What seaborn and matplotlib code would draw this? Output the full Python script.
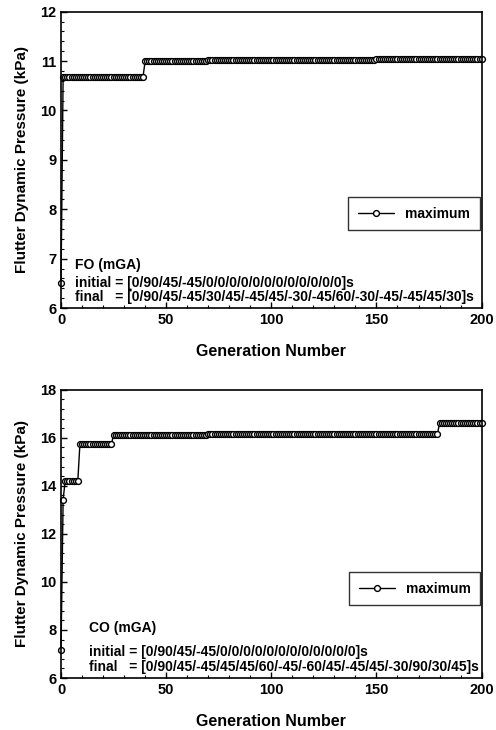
import numpy as np
import pandas as pd
import matplotlib
matplotlib.use("Agg")
import matplotlib.pyplot as plt
from matplotlib.ticker import MultipleLocator
import seaborn as sns

# step data: generation where each plateau starts, and its value
fo_start = [0, 1, 40, 70, 150]
fo_value = [6.5, 10.68, 11.0, 11.03, 11.05]
co_start = [0, 1, 2, 9, 25, 70, 180]
co_value = [7.15, 13.42, 14.22, 15.75, 16.12, 16.16, 16.6]
last_gen = 200

fo_initial = "[0/90/45/-45/0/0/0/0/0/0/0/0/0/0/0/0]s"
fo_final = "[0/90/45/-45/30/45/-45/45/-30/-45/60/-30/-45/-45/45/30]s"
co_initial = "[0/90/45/-45/0/0/0/0/0/0/0/0/0/0/0/0]s"
co_final = "[0/90/45/-45/45/45/60/-45/-60/45/-45/45/-30/90/30/45]s"


def expand(starts, values):
    lengths = np.diff(starts + [last_gen + 1])
    gen = np.arange(last_gen + 1)
    return pd.DataFrame({"gen": gen, "q": np.repeat(values, lengths)})


sns.set_theme(style="ticks")
plt.rcParams["font.family"] = ["Liberation Sans", "DejaVu Sans"]
plt.rcParams["font.weight"] = "bold"
plt.rcParams["text.color"] = "black"
plt.rcParams["axes.labelcolor"] = "black"

fig = plt.figure(figsize=(4.96, 7.3), dpi=100)
ax1 = fig.add_axes([0.123, 0.578, 0.848, 0.406])
ax2 = fig.add_axes([0.123, 0.0712, 0.848, 0.395])

panels = [
    (ax1, expand(fo_start, fo_value), (6, 12), 1, 0.2, "FO (mGA)", fo_initial, fo_final,
     (0.033, 0.145, 0.084, 0.037), (0.995, 0.375)),
    (ax2, expand(co_start, co_value), (6, 18), 2, 0.4, "CO (mGA)", co_initial, co_final,
     (0.066, 0.174, 0.09, 0.038), (0.997, 0.368)),
]

for ax, df, ylim, major, minor, tag, init, fin, tpos, lpos in panels:
    sns.lineplot(data=df, x="gen", y="q", ax=ax, color="black", lw=1.0,
                 marker="o", markersize=4.2, markerfacecolor="white",
                 markeredgecolor="black", markeredgewidth=1.0,
                 label="maximum", clip_on=False)
    ax.set_xlim(0, 200)
    ax.set_ylim(*ylim)
    ax.xaxis.set_major_locator(MultipleLocator(50))
    ax.xaxis.set_minor_locator(MultipleLocator(10))
    ax.yaxis.set_major_locator(MultipleLocator(major))
    ax.yaxis.set_minor_locator(MultipleLocator(minor))
    ax.tick_params(which="both", direction="in", color="black", labelsize=10.5,
                   labelcolor="black")
    ax.tick_params(which="major", length=4, width=1)
    ax.tick_params(which="minor", length=2, width=0.8)
    for lab in ax.get_xticklabels() + ax.get_yticklabels():
        lab.set_fontweight("bold")
    for s in ax.spines.values():
        s.set_color("black")
        s.set_linewidth(1.2)
    ax.set_xlabel("Generation Number", fontsize=11.5, fontweight="bold", labelpad=12)
    ax.set_ylabel("Flutter Dynamic Pressure (kPa)", fontsize=11, fontweight="bold",
                  labelpad=8)

    x0, y_tag, y_init, y_fin = tpos
    ax.text(x0, y_tag, tag, transform=ax.transAxes, fontsize=10, fontweight="bold",
            va="center")
    ax.text(x0, y_init, "initial = " + init, transform=ax.transAxes, fontsize=10,
            fontweight="bold", va="center")
    ax.text(x0, y_fin, "final   = " + fin, transform=ax.transAxes, fontsize=10,
            fontweight="bold", va="center")

    leg = ax.legend(loc="upper right", bbox_to_anchor=lpos, frameon=True,
                    fancybox=False, edgecolor="black", borderaxespad=0,
                    handlelength=2.6, borderpad=0.7, prop={"weight": "bold", "size": 10})
    leg.get_frame().set_linewidth(1.0)

fig.savefig("out.png", dpi=100)
